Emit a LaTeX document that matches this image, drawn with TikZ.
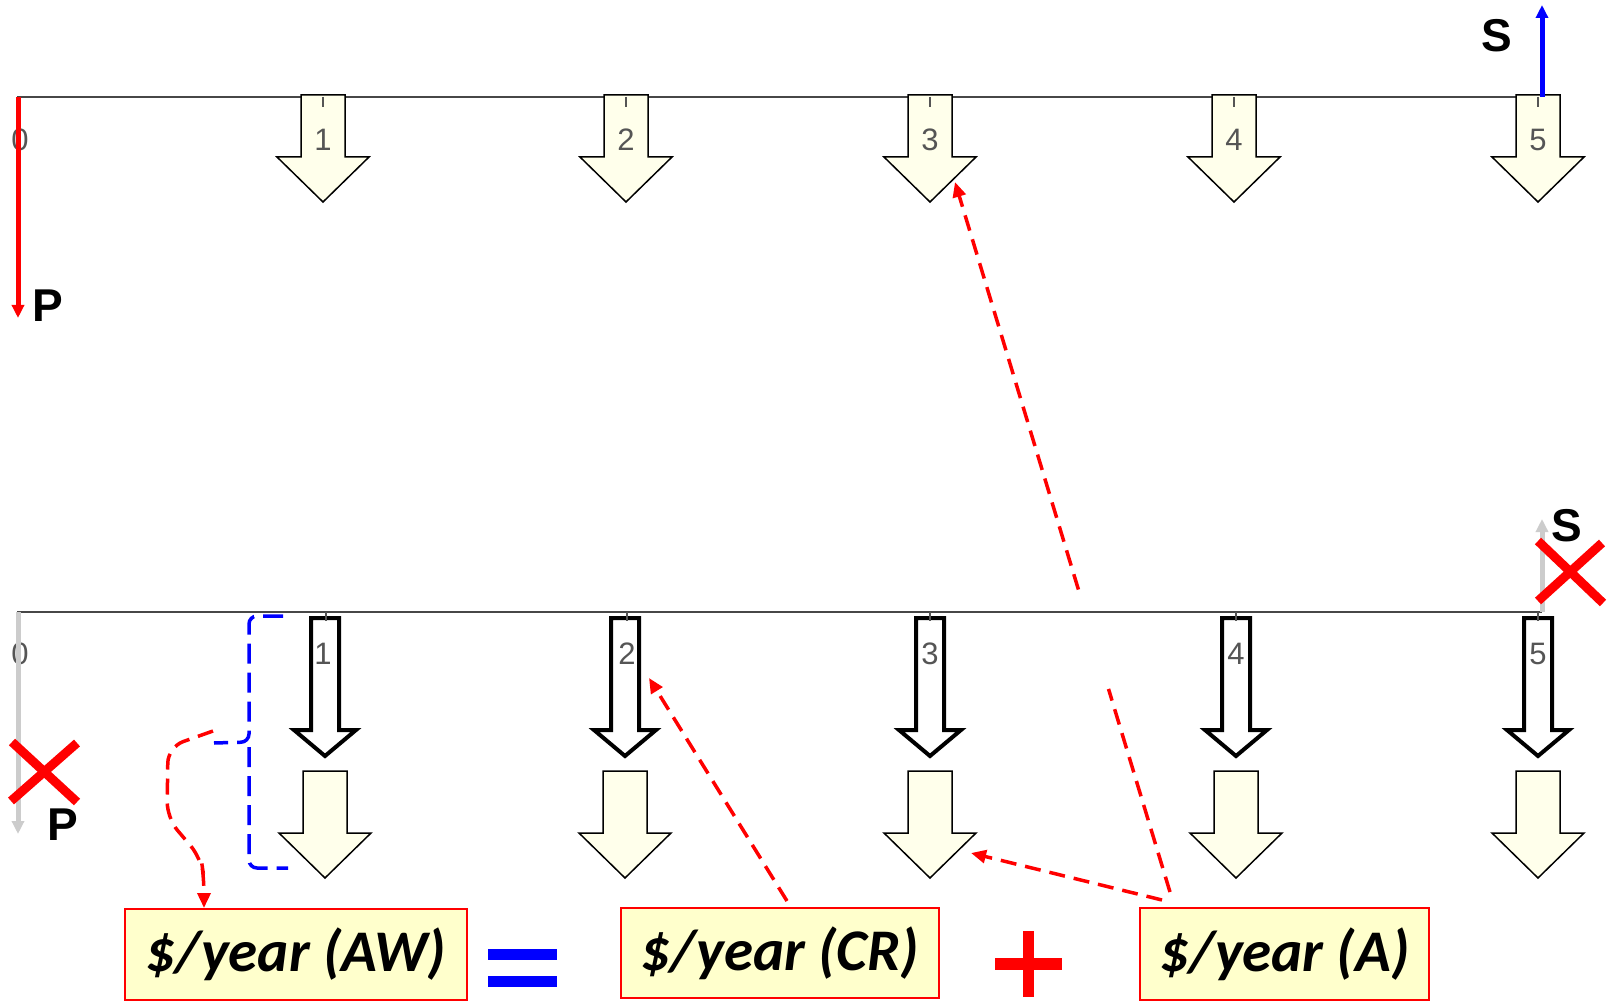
\documentclass[tikz,border=0pt]{standalone}
\usepackage{fontspec}
\setmainfont{Liberation Sans}
\newfontfamily\calib{Carlito}
\usetikzlibrary{arrows.meta,calc}

\definecolor{cream}{HTML}{FFFFEB}
\definecolor{boxfill}{HTML}{FFFFCC}
\definecolor{axisgray}{HTML}{474747}
\definecolor{ghost}{HTML}{CCCCCC}
\definecolor{ticklabel}{HTML}{555555}

\tikzset{
  axis/.style={draw=axisgray, line width=2pt},
  tickmark/.style={draw=ticklabel, line width=1.5pt},
  period/.style={font=\fontsize{31}{33}\selectfont, text=ticklabel, inner sep=0pt},
  flowlabel/.style={font=\bfseries\fontsize{46}{48}\selectfont, inner sep=0pt},
  cashflow/.style={line width=5pt, -{Triangle[length=13pt,width=12pt]}},
  cross/.style={draw=red, line width=9pt},
  link/.style={draw=red, line width=3.5pt, dash pattern=on 16pt off 9pt,
    -{Triangle[length=15pt,width=13pt]}},
  brace/.style={draw=blue, line width=3.5pt, dash pattern=on 20pt off 9pt, rounded corners=8pt},
  termbox/.style={draw=red, line width=2pt, fill=boxfill, inner sep=0pt,
    font=\calib\bfseries\itshape\fontsize{59}{62}\selectfont},
  yarrow/.pic={\path[draw=black, line width=1.5pt, fill=cream]
    (-22,0) -- (22,0) -- (22,62) -- (46,62) -- (0,107) -- (-46,62) -- (-22,62) -- cycle;},
  barrow/.pic={\path[draw=black, line width=4pt, fill=white, line join=miter]
    (-14,0) -- (14,0) -- (14,112) -- (31,112) -- (0,138) -- (-31,112) -- (-14,112) -- cycle;}
}

\begin{document}
\begin{tikzpicture}[x=1pt, y=-1pt]
\useasboundingbox[fill=white] (0,0) rectangle (1610,1003);

% ---------- upper cash-flow diagram ----------
\coordinate (t0) at (17,97);
\coordinate (t5) at (1542,97);
\path[axis] (t0) -- (t5);
\foreach \k/\x in {1/323,2/626,3/930,4/1234,5/1538} {
  \pic at (\x,95) {yarrow};
  \coordinate (up\k) at (\x,95);
}
\foreach \x in {323,626,930,1234,1538}
  \path[tickmark] (\x,97) -- (\x,107);
\foreach \k/\x in {0/20,1/323,2/626,3/930,4/1234,5/1538}
  \node[period] (ul\k) at (\x,140) {\k};

% initial cost and salvage value
\coordinate (pTop) at (18,97);
\coordinate (pEnd) at (18,318);
\path[cashflow, draw=red] (pTop) -- (pEnd);
\node[flowlabel] (Ptop) at (48,306) {P};
\coordinate (sBase) at (1542,97);
\coordinate (sEnd) at (1542,5);
\path[cashflow, draw=blue] (sBase) -- (sEnd);
\node[flowlabel] (Stop) at (1497,36) {S};

% ---------- lower cash-flow diagram ----------
\coordinate (b0) at (17,612);
\coordinate (b5) at (1542,612);
\path[axis] (b0) -- (b5);
\foreach \k/\x in {1/325,2/625,3/930,4/1236,5/1538} {
  \pic at (\x,618) {barrow};
  \pic at (\x,771) {yarrow};
  \coordinate (lo\k) at (\x,771);
}
\foreach \x in {326,627,930,1236,1538}
  \path[tickmark] (\x,612) -- (\x,621);
\foreach \k/\x in {0/20,1/323,2/627,3/930,4/1236,5/1538}
  \node[period] (ll\k) at (\x,654) {\k};

% crossed-out P and S
\path[cashflow, draw=ghost] (18,612) -- (18,834);
\path[cross] (12,742) -- (77,802);
\path[cross] (11,801) -- (77,743);
\node[flowlabel] (Pbot) at (63,825) {P};
\path[cashflow, draw=ghost] (1542,612) -- (1542,519);
\node[flowlabel] (Sbot) at (1567,526) {S};
\path[cross] (1538,541) -- (1603,603);
\path[cross] (1538,601) -- (1602,543);

% ---------- equation boxes ----------
\node[termbox, minimum width=342pt, minimum height=91pt] (aw) at (296,954.5) {\$/year (AW)};
\node[termbox, minimum width=318pt, minimum height=90pt] (cr) at (780,953) {\$/year (CR)};
\node[termbox, minimum width=289pt, minimum height=92pt] (aa) at (1284.5,954) {\$/year (A)};

% equals and plus signs
\fill[blue] (488,949) rectangle (557,960);
\fill[blue] (488,976) rectangle (557,987);
\fill[red] (1023,931) rectangle (1034,997);
\fill[red] (995,958) rectangle (1062,970);

% ---------- connectors ----------
% blue brace over the lower yearly amounts
\path[brace] (283,616) -- (249,616) -- (249,742) -- (214,743);
\path[brace] (249,747) -- (249,868) -- (288,868);
\coordinate (braceTip) at (213,731);

% from the brace down to the AW box
\path[link, rounded corners=16pt] (braceTip) -- (168,747) -- (167,818) -- (201,858) -- (204,878) -- (aw.north west -| 204,906);

% from the CR box up to the lower arrow 2
\coordinate (crFoot) at (787,901);
\coordinate (crHead) at (649,678);
\path[link] (crFoot) -- (crHead);

% from the A box to the lower arrow 3
\coordinate (aFoot) at (1162,900);
\coordinate (aLow) at (971,853);
\path[link] (aFoot) -- (aLow);

% from the A box to the upper arrow 3, interrupted across the lower axis
\coordinate (aFoot2) at (1170,892);
\coordinate (aHigh) at (955,182);
\path[draw=red, line width=3.5pt, dash pattern=on 16pt off 9pt]
  (aFoot2) -- ($(aFoot2)!0.286!(aHigh)$);
\path[link] ($(aFoot2)!0.426!(aHigh)$) -- (aHigh);
\end{tikzpicture}
\end{document}
